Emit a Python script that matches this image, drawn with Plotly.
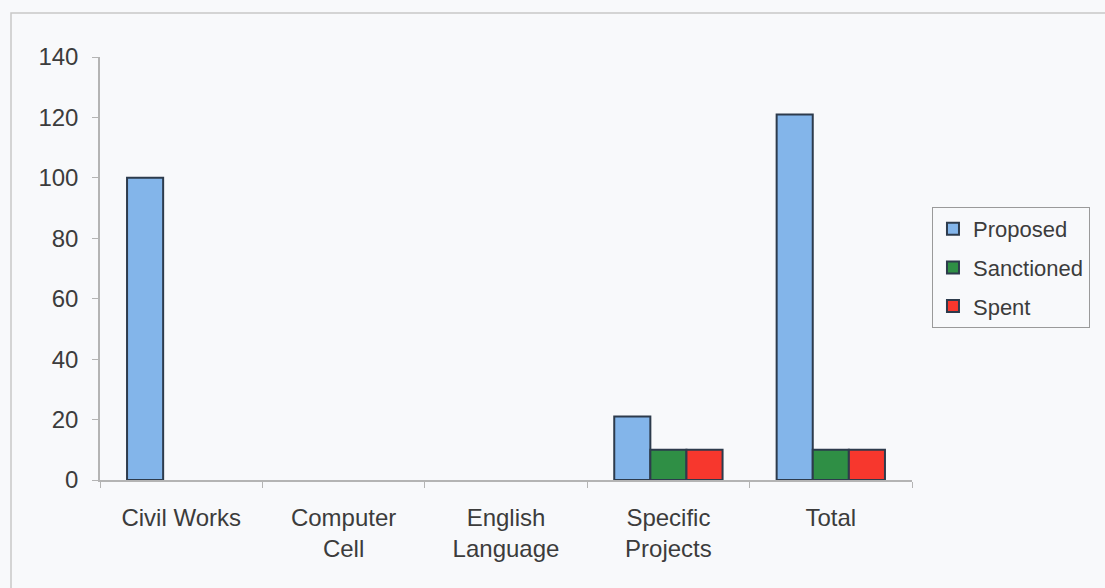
import plotly.graph_objects as go

categories = ["Civil Works", "Computer<br>Cell", "English<br>Language", "Specific<br>Projects", "Total"]
proposed = [100, 0, 0, 21, 121]
sanctioned = [0, 0, 0, 10, 10]
spent = [0, 0, 0, 10, 10]
y_ticks = [0, 20, 40, 60, 80, 100, 120, 140]

series = [
    ("Proposed", proposed, "#83b5ea"),
    ("Sanctioned", sanctioned, "#2f8f45"),
    ("Spent", spent, "#f7372d"),
]
outline = "#2d3b4c"

fig = go.Figure()
for name, vals, color in series:
    # data bars: empty bars get no outline so nothing is drawn for them
    fig.add_trace(go.Bar(
        x=categories, y=vals, name=name, offsetgroup=name, showlegend=False,
        marker=dict(color=color,
                    line=dict(color=outline, width=[2 if v else 0 for v in vals])),
    ))
    # legend key with a full outline, sharing the same bar slot
    fig.add_trace(go.Bar(
        x=categories[:1], y=[None], name=name, offsetgroup=name, legendgroup=name,
        marker=dict(color=color, line=dict(color=outline, width=2)),
        hoverinfo="skip",
    ))

family = "Liberation Sans, Arial, sans-serif"
font = dict(family=family, size=24, color="#3c3c3c")

fig.update_layout(
    width=1105, height=588,
    margin=dict(l=100, r=193, t=57, b=108),
    paper_bgcolor="#f8f9fb", plot_bgcolor="#f8f9fb",
    barmode="group", bargap=0.333, bargroupgap=0,
    font=font,
    showlegend=True,
    legend=dict(
        x=1.0246, y=0.6454, xanchor="left", yanchor="top",
        bgcolor="rgba(0,0,0,0)", bordercolor="#9a9a9a", borderwidth=1,
        font=dict(family=family, size=22, color="#3c3c3c"),
        itemwidth=30, traceorder="grouped", tracegroupgap=7,
    ),
    xaxis=dict(
        showline=True, linecolor="#b4b4b4", linewidth=1.5,
        ticks="outside", ticklen=6, tickcolor="#b4b4b4", tickson="boundaries",
        showgrid=False, ticklabelstandoff=15,
    ),
    yaxis=dict(
        range=[0, 140], tickvals=y_ticks,
        showline=True, linecolor="#b4b4b4", linewidth=1.5,
        ticks="outside", ticklen=6, tickcolor="#b4b4b4",
        showgrid=False, zeroline=False, ticklabelstandoff=9,
    ),
    shapes=[dict(
        type="rect", xref="paper", yref="paper",
        x0=(11 - 100) / 812, x1=1.4, y0=-0.4, y1=1 + (57 - 13) / 423,
        line=dict(color="#c8c8c8", width=1.5), fillcolor="rgba(0,0,0,0)", layer="below",
    )],
)

fig.write_html("out.html")
